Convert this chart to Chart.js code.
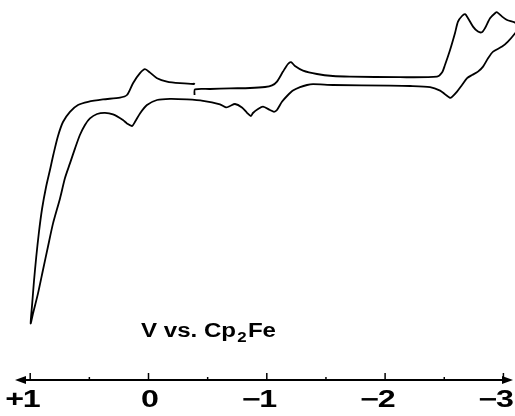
<!DOCTYPE html>
<html><head><meta charset="utf-8">
<script src="https://cdn.jsdelivr.net/npm/chart.js@4/dist/chart.umd.min.js"></script>
<style>html,body{margin:0;padding:0;background:#fff;overflow:hidden}</style>
</head><body>
<canvas id="c" width="515" height="416"></canvas>
<script>
// Cyclic voltammogram: potential (V vs. Cp2Fe) and current (arbitrary units), in scan order
const potential = [
 -0.389,-0.393,-0.520,-0.689,-0.858,-0.985,-1.044,-1.086,-1.137,-1.179,-1.205,-1.238,-1.306,-1.424,-1.559,-1.703,-2.126,-2.439,-2.481,-2.506,
 -2.549,-2.591,-2.616,-2.650,-2.676,-2.701,-2.743,-2.785,-2.819,-2.844,-2.887,-2.929,-2.946,-2.989,-3.031,-3.099,-3.132,
 -3.099,-3.038,-2.989,-2.913,-2.870,-2.828,-2.785,-2.735,-2.693,-2.650,-2.608,-2.566,-2.549,-2.506,-2.465,-2.380,-2.211,-2.041,-1.560,
 -1.391,-1.340,-1.281,-1.221,-1.171,-1.128,-1.086,-1.061,-1.027,-0.968,-0.926,-0.883,-0.866,-0.833,-0.790,-0.731,-0.689,-0.655,-0.604,
 -0.461,-0.325,-0.182,-0.072,0.013,0.072,0.114,0.139,0.182,0.216,0.300,0.368,0.435,0.495,0.537,0.580,0.621,0.664,0.706,0.748,0.807,
 0.850,0.892,0.934,0.976,0.996,
 0.983,0.968,0.949,0.927,0.900,0.866,0.833,0.803,0.765,0.723,0.664,0.596,0.511,0.385,0.241,0.182,0.131,0.072,0.030,-0.013,-0.072,-0.156,
 -0.266,-0.385,-0.389
];
const current = [
 0.00,0.28,0.30,0.33,0.35,0.40,0.48,0.67,1.17,1.55,1.64,1.45,1.22,1.05,0.95,0.92,0.89,0.92,1.12,1.50,
 2.25,3.10,3.67,3.95,4.04,3.84,3.42,3.17,3.14,3.34,3.84,4.09,4.14,3.92,3.75,3.62,3.40,
 3.09,2.67,2.42,2.17,1.84,1.42,1.17,1.00,0.84,0.50,0.17,-0.09,-0.14,0.04,0.22,0.39,0.45,0.47,0.50,
 0.54,0.50,0.39,0.22,-0.05,-0.34,-0.75,-0.84,-0.75,-0.58,-0.70,-0.90,-1.05,-0.89,-0.62,-0.45,-0.55,-0.62,-0.47,
 -0.29,-0.22,-0.19,-0.25,-0.50,-0.92,-1.34,-1.55,-1.42,-1.25,-0.97,-0.89,-0.95,-1.17,-1.50,-2.00,-2.67,-3.42,-4.15,-5.17,-6.42,
 -7.59,-8.75,-9.92,-10.92,-11.42,
 -10.42,-9.30,-8.10,-6.90,-5.70,-4.60,-3.75,-2.95,-2.05,-1.35,-0.84,-0.50,-0.34,-0.22,-0.13,0.00,0.59,1.09,1.29,1.12,0.84,0.67,
 0.59,0.55,0.60
];
const tickValues = [1, 0, -1, -2, -3];
const tickLabels = ['+1', '0', '\u22121', '\u22122', '\u22123'];
const minorTickValues = [0.5, -0.5, -1.5, -2.5];
const titleParts = ['V vs. Cp', '2', 'Fe'];

const FONT = '"Liberation Sans", Arial, Helvetica, sans-serif';

const axisPlugin = {
  id: 'axisDeco',
  afterDraw(chart) {
    const ctx = chart.ctx, a = chart.chartArea, x = chart.scales.x;
    const y0 = a.bottom;
    ctx.save();
    ctx.strokeStyle = '#000'; ctx.fillStyle = '#000';
    const xl = a.left, xr = a.right - 2;
    ctx.lineWidth = 2;
    ctx.beginPath(); ctx.moveTo(xl + 6, y0); ctx.lineTo(xr - 6, y0); ctx.stroke();
    ctx.beginPath(); ctx.moveTo(xl, y0); ctx.lineTo(xl + 11, y0 - 4); ctx.lineTo(xl + 11, y0 + 4); ctx.closePath(); ctx.fill();
    ctx.beginPath(); ctx.moveTo(xr, y0); ctx.lineTo(xr - 11, y0 - 4); ctx.lineTo(xr - 11, y0 + 4); ctx.closePath(); ctx.fill();
    ctx.lineWidth = 1.5;
    tickValues.forEach(v => { const p = x.getPixelForValue(v); ctx.beginPath(); ctx.moveTo(p, y0); ctx.lineTo(p, y0 - 7); ctx.stroke(); });
    minorTickValues.forEach(v => { const p = x.getPixelForValue(v); ctx.beginPath(); ctx.moveTo(p, y0); ctx.lineTo(p, y0 - 3); ctx.stroke(); });
    // tick labels: digit centred on the tick, sign hanging to its left
    ctx.font = 'bold 23px ' + FONT;
    ctx.textBaseline = 'alphabetic';
    const sx = 1.4;
    tickLabels.forEach((t, k) => {
      const p = x.getPixelForValue(tickValues[k]);
      const sign = t.length > 1 ? t.slice(0, -1) : '';
      const digit = t.slice(-1);
      ctx.save(); ctx.translate(p + 1.5, 406.5); ctx.scale(sx, 1);
      const dw = ctx.measureText(digit).width;
      ctx.textAlign = 'center'; ctx.fillText(digit, 0, 0);
      if (sign) { ctx.textAlign = 'right'; ctx.fillText(sign, -dw / 2 + 1, 0); }
      ctx.restore();
    });
    // axis title
    ctx.textAlign = 'left';
    const bigF = 'bold 20px ' + FONT, subF = 'bold 14px ' + FONT;
    ctx.font = bigF; const w0 = ctx.measureText(titleParts[0]).width, w2 = ctx.measureText(titleParts[2]).width;
    ctx.font = subF; const w1 = ctx.measureText(titleParts[1]).width;
    const gap = 1;
    const W = w0 + gap + w1 + gap + w2;
    const tx = 135 / W;
    ctx.save();
    ctx.translate(141, 337); ctx.scale(tx, 1);
    ctx.font = bigF; ctx.fillText(titleParts[0], 0, 0);
    ctx.font = subF; ctx.fillText(titleParts[1], w0 + gap, 5);
    ctx.font = bigF; ctx.fillText(titleParts[2], w0 + gap + w1 + gap, 0);
    ctx.restore();
    ctx.restore();
  }
};

new Chart(document.getElementById('c'), {
  type: 'line',
  data: {
    datasets: [{
      data: potential.map((v, k) => ({ x: v, y: current[k] })),
      borderColor: '#000',
      borderWidth: 1.8,
      pointRadius: 0,
      tension: 0.25,
      fill: false
    }]
  },
  options: {
    responsive: false,
    animation: false,
    devicePixelRatio: 1,
    layout: { padding: { left: 15, right: 0, top: 0, bottom: 36 } },
    scales: {
      x: { type: 'linear', reverse: true, min: -3.098, max: 1.1285, display: false },
      y: { type: 'linear', min: -14.25, max: 4.75, display: false }
    },
    plugins: { legend: { display: false }, tooltip: { enabled: false } }
  },
  plugins: [axisPlugin]
});
</script>
</body></html>
